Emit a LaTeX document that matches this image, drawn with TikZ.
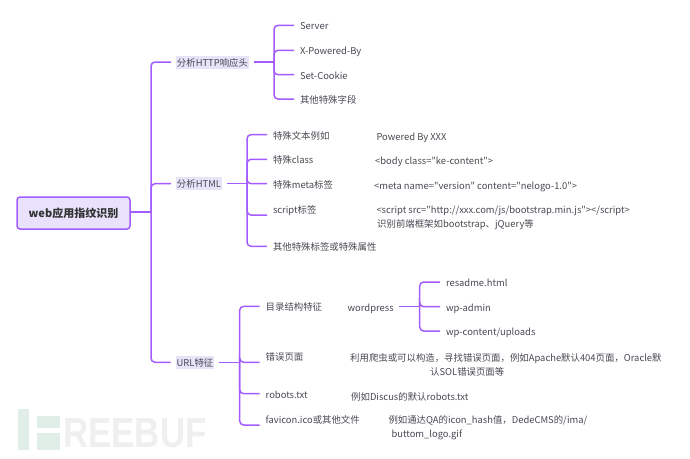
\documentclass[tikz,border=0pt]{standalone}
\usepackage{fontspec}
\usepackage{xcolor}
\newfontfamily\mapfont{Noto Sans CJK SC}
\newfontfamily\markfont{Liberation Sans}
\definecolor{mapviolet}{RGB}{162, 92, 255}
\definecolor{mapfill}{RGB}{233, 226, 252}
\definecolor{maptag}{RGB}{232, 227, 248}
\definecolor{maptext}{RGB}{72, 72, 82}
\definecolor{markgreen}{RGB}{224, 238, 231}
\definecolor{markgray}{RGB}{239, 239, 239}
\usetikzlibrary{positioning}
\tikzset{
    branch/.style={draw=mapviolet, line width=1.5pt, rounded corners=4pt},
    rootnode/.style={draw=mapviolet, fill=mapfill, line width=1.5pt, rounded corners=3pt,
        minimum width=113pt, minimum height=32pt, inner sep=0pt,
        font=\mapfont\fontsize{11}{13}\selectfont\bfseries, text=black!80},
    topicnode/.style={fill=maptag, inner xsep=0.5pt, inner ysep=1.5pt, outer xsep=5.5pt, outer ysep=0pt,
        text height=9pt, text depth=1pt, text=maptext,
        font=\mapfont\fontsize{9.4}{12}\selectfont},
    leafnode/.style={anchor=west, inner xsep=0pt, inner ysep=1pt, outer xsep=6pt, outer ysep=0pt,
        text height=9.5pt, text depth=0.5pt, text=maptext,
        font=\mapfont\fontsize{9.4}{12}\selectfont},
    notenode/.style={anchor=west, inner sep=0pt, align=left, text=maptext,
        font=\mapfont\fontsize{9.4}{14}\selectfont},
}

\begin{document}
\begin{tikzpicture}[x=1pt, y=-1pt]
    \useasboundingbox (0,0) rectangle (690,458);

    % Watermark in the corner
    \fill[markgreen] (18,409) rectangle (29,450);
    \fill[markgreen] (37,416) rectangle (60,428);
    \fill[markgreen] (37,433) rectangle (60,450);
    \node[anchor=west, inner sep=0pt, text=markgray, xscale=0.83, font=\markfont\fontsize{42}{42}\selectfont\bfseries] (mark) at (63,433) {REEBUF};

    % Root and its three topics
    \node[rootnode] (root) at (73.5,213) {\raisebox{-1pt}{web应用指纹识别}};
    \node[topicnode] (http) at (212.5,62) {分析HTTP响应头};
    \node[topicnode] (html) at (199,183.7) {分析HTML};
    \node[topicnode] (url) at (195,362.3) {URL特征};
    \coordinate (rootbus) at (151,212);
    \draw[branch] (root.east |- rootbus) -- (rootbus);
    \draw[branch] (rootbus) |- (http.west);
    \draw[branch] (rootbus) |- (html.west);
    \draw[branch] (rootbus) |- (url.west);

    % HTTP response header
    \node[leafnode] (server) at (294,25.3) {Server};
    \node[leafnode] (powered) at (294,50.3) {X-Powered-By};
    \node[leafnode] (cookie) at (294,74.7) {Set-Cookie};
    \node[leafnode] (otherhead) at (294,99) {其他特殊字段};
    \coordinate (httpbus) at (274,62);
    \draw[branch] (http.east) -- (httpbus);
    \draw[branch] (httpbus) |- (server.west);
    \draw[branch] (httpbus) |- (powered.west);
    \draw[branch] (httpbus) |- (cookie.west);
    \draw[branch] (httpbus) |- (otherhead.west);

    % HTML
    \node[leafnode] (textkey) at (267,134.7) {特殊文本例如};
    \node[leafnode] (classkey) at (267,159.3) {特殊class};
    \node[leafnode] (metakey) at (267,183.7) {特殊meta标签};
    \node[leafnode] (scriptkey) at (267,209) {script标签};
    \node[leafnode] (otherkey) at (267,246.3) {其他特殊标签或特殊属性};
    \coordinate (htmlbus) at (247,183.7);
    \draw[branch] (html.east) -- (htmlbus);
    \draw[branch] (htmlbus) |- (textkey.west);
    \draw[branch] (htmlbus) |- (classkey.west);
    \draw[branch] (htmlbus) |- (metakey.west);
    \draw[branch] (htmlbus) |- (scriptkey.south west);
    \draw[branch] (htmlbus) |- (otherkey.west);
    \node[notenode] (textnote) at (376.3,137.5) {Powered By XXX};
    \node[notenode] (classnote) at (375,162) {<body class="ke-content">};
    \node[notenode] (metanote) at (374,186.5) {<meta name="version" content="nelogo-1.0">};
    \node[notenode] (scriptnote) at (376.3,218) {<script src="http://xxx.com/js/bootstrap.min.js"></script>\\\hspace*{0.7pt}识别前端框架如bootstrap、jQuery等};

    % URL
    \node[leafnode] (dirkey) at (259.7,306.3) {目录结构特征};
    \node[leafnode] (errkey) at (259.7,356.3) {错误页面};
    \node[leafnode] (robotskey) at (259.7,393.7) {robots.txt};
    \node[leafnode] (favkey) at (259.7,419) {favicon.ico或其他文件};
    \coordinate (urlbus) at (239.7,362.3);
    \draw[branch] (url.east) -- (urlbus);
    \draw[branch] (urlbus) |- (dirkey.west);
    \draw[branch] (urlbus) |- (errkey.south west);
    \draw[branch] (urlbus) |- (robotskey.west);
    \draw[branch] (urlbus) |- (favkey.south west);

    % Directory example
    \node[leafnode, outer xsep=5.5pt] (wordpress) at (342.2,306.7) {wordpress};
    \node[leafnode] (readme) at (440,282) {resadme.html};
    \node[leafnode] (admin) at (440,306.7) {wp-admin};
    \node[leafnode] (uploads) at (440,331) {wp-content/uploads};
    \coordinate (wpbus) at (419.7,306.7);
    \draw[branch] (wordpress.east) -- (wpbus);
    \draw[branch] (wpbus) |- (readme.west);
    \draw[branch] (wpbus) |- (admin.west);
    \draw[branch] (wpbus) |- (uploads.west);

    % Notes on the URL rows
    \node[notenode] (errnote) at (350,365) {利用爬虫或可以构造，寻找错误页面，例如Apache默认404页面，Oracle默\\\hspace*{80pt}认SOL错误页面等};
    \node[notenode] (robotsnote) at (351,396.5) {例如Discus的默认robots.txt};
    \node[notenode] (favnote) at (388.3,428) {例如通达QA的icon\_hash值，DedeCMS的/ima/\\\hspace*{3pt}buttom\_logo.gif};
\end{tikzpicture}
\end{document}
